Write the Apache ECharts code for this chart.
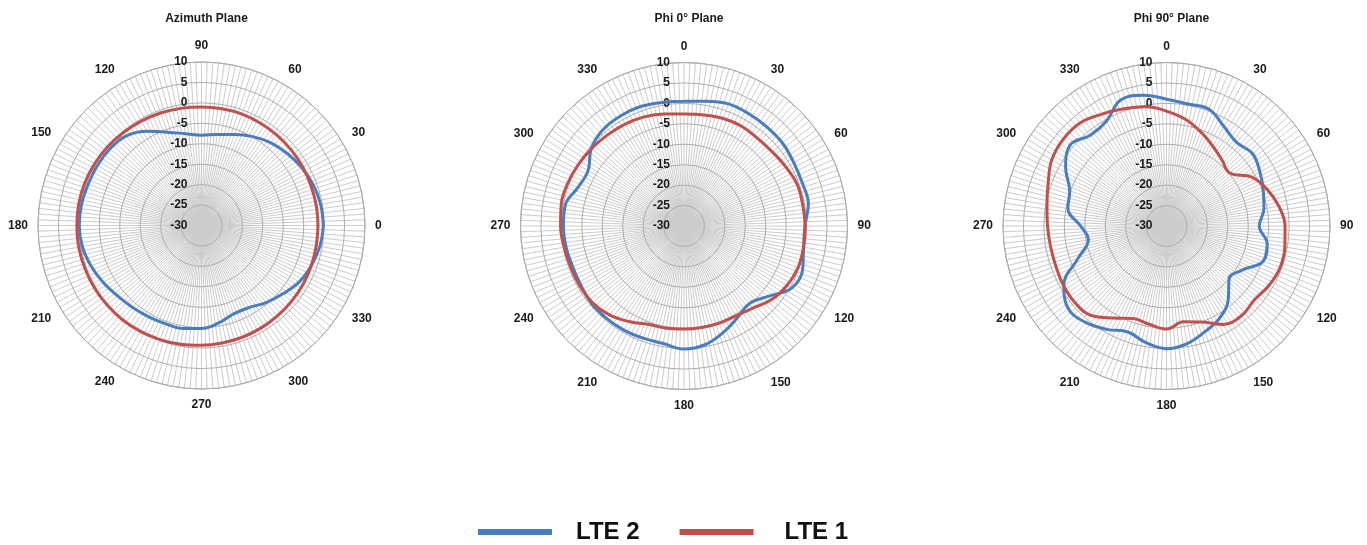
<!DOCTYPE html>
<html>
<head>
<meta charset="utf-8">
<script src="https://cdn.jsdelivr.net/npm/echarts@6/dist/echarts.min.js"></script>
<style>html,body{margin:0;padding:0;background:#fff}#c{width:1367px;height:545px}</style>
</head>
<body>
<div id="c"></div>
<script>
// ---- data (dB) ----
const angles = [0,10,20,30,40,50,60,70,80,90,100,110,120,130,140,150,160,170,180,190,200,210,220,230,240,250,260,270,280,290,300,310,320,330,340,350];
// Azimuth plane (angle counter-clockwise from the right)
const azLTE2 = [-0.2,-0.4,-0.9,-1.7,-2.6,-3.6,-4.9,-6.3,-7.4,-7.9,-7.2,-5.7,-3.4,-1.4,-0.8,-0.6,-0.5,-0.2,-0.1,-0.4,-1.2,-2.2,-3.2,-3.8,-4.2,-4.4,-4.4,-4.8,-5.8,-7.0,-6.8,-5.4,-4.0,-2.4,-1.4,-0.6];
const azLTE1 = [-1.5,-1.5,-1.5,-1.4,-1.3,-1.2,-1.1,-1.0,-1.0,-1.0,-0.9,-0.7,-0.5,-0.3,0.0,0.2,0.4,0.5,0.5,0.5,0.4,0.3,0.2,0.1,-0.1,-0.3,-0.5,-0.7,-0.8,-0.9,-1.0,-1.1,-1.2,-1.3,-1.4,-1.5];
// Phi 0 plane (angle clockwise from the top)
const p0LTE2 = [0.5,1.0,1.8,1.7,1.6,1.5,1.0,0.8,0.9,-0.4,-0.3,0.9,0.4,-3.2,-5.2,-4.0,-2.2,-0.5,0.1,-0.8,-0.8,-0.6,-0.5,-0.5,-0.9,-1.0,-0.7,-0.5,-0.5,-2.4,-2.9,-0.4,0.8,1.1,1.1,0.7];
const p0LTE1 = [-2.6,-2.4,-2.0,-1.8,-2.0,-1.8,-1.2,-0.5,-0.5,-0.4,-0.3,-0.3,-0.9,-2.0,-3.8,-4.6,-4.7,-4.8,-4.8,-4.6,-4.4,-3.0,-1.6,-0.8,-0.6,-0.5,-0.2,0.2,0.5,0.3,-0.1,-0.5,-0.9,-1.2,-1.6,-2.2];
// Phi 90 plane (angle clockwise from the top)
const p90LTE2 = [1.0,0.3,0.4,-1.9,-3.3,-2.5,-3.6,-4.8,-5.8,-7.3,-5.0,-4.8,-8.5,-10.0,-6.5,-4.0,-2.5,-0.8,0.0,-1.0,-2.4,-0.8,0.8,1.4,-1.0,-7.0,-10.6,-9.0,-5.5,-4.8,-1.5,0.8,-1.0,-0.5,2.8,2.5];
const p90LTE1 = [-1.9,-3.5,-5.5,-7.4,-8.9,-9.8,-6.0,-3.8,-2.1,-1.0,-0.6,-0.4,-1.0,-1.9,-1.4,-2.2,-5.0,-6.2,-4.8,-5.6,-5.9,-4.0,-1.4,-0.8,-0.9,-1.2,-1.2,-0.9,-0.3,0.8,2.4,3.0,2.9,1.6,0.5,-0.4];

const radialMin = -30, radialMax = 10, radialStep = 5;
const angleStep = 30;
const titles = ['Azimuth Plane', 'Phi 0\u00b0 Plane', 'Phi 90\u00b0 Plane'];
const seriesNames = ['LTE 2', 'LTE 1'];
const colors = ['#4a7dbd', '#c0504d'];

// ---- layout ----
const centers = [[201.5, 225.5], [684, 226], [1166.5, 226]];
const R = 163.5;
const FONT = '"Liberation Sans", Arial, sans-serif';

function closed(vals) {
  const d = angles.map((a, i) => [vals[i], a]);
  d.push([vals[0], 360]);
  return d;
}

const polar = centers.map(c => ({ center: c, radius: R }));
polar.push({ center: centers[0], radius: R }); // label-only overlay for azimuth

function mkAngle(i, start, cw, visible) {
  return {
    polarIndex: i, type: 'value', min: 0, max: 360, interval: angleStep,
    startAngle: start, clockwise: cw, show: visible,
    axisLine: { show: true, lineStyle: { color: '#a8a8a8', width: 1 } },
    axisTick: { show: false },
    minorTick: { show: false, splitNumber: 15 },
    axisLabel: {
      show: true, margin: 10, fontFamily: FONT, fontSize: 12, fontWeight: 'bold', color: '#1a1a1a',
      formatter: v => (v === 360 ? '' : String(v))
    },
    splitLine: { show: true, lineStyle: { color: '#cccccc', width: 1 } },
    minorSplitLine: { show: true, lineStyle: { color: '#cccccc', width: 1 } }
  };
}
const angleAxis = [
  mkAngle(0, 0, false, true),
  mkAngle(1, 90, true, true),
  mkAngle(2, 90, true, true),
  mkAngle(3, 90, true, false)
];

function mkRadius(i, labels, grid) {
  return {
    polarIndex: i, type: 'value', min: radialMin, max: radialMax, interval: radialStep,
    axisLine: { show: false }, axisTick: { show: false },
    axisLabel: { show: labels, margin: 14, fontFamily: FONT, fontSize: 12, fontWeight: 'bold', color: '#1a1a1a' },
    splitLine: { show: grid, lineStyle: { color: '#adadad', width: 1 } },
    z: 5
  };
}
const radiusAxis = [
  mkRadius(0, false, true),
  mkRadius(1, true, true),
  mkRadius(2, true, true),
  mkRadius(3, true, false)
];

const sets = [[azLTE2, azLTE1], [p0LTE2, p0LTE1], [p90LTE2, p90LTE1]];
const series = [];
sets.forEach((pair, pi) => {
  pair.forEach((vals, si) => {
    series.push({
      name: seriesNames[si], type: 'line', coordinateSystem: 'polar', polarIndex: pi,
      data: closed(vals), symbol: 'none', smooth: 0.4,
      lineStyle: { width: 3, color: colors[si] }, itemStyle: { color: colors[si] }, z: 10 + si
    });
  });
});

const option = {
  animation: false,
  backgroundColor: '#fff',
  title: titles.map((t, i) => ({
    text: t, left: centers[i][0], top: 8, textAlign: 'center',
    textStyle: { fontFamily: FONT, fontSize: 12, fontWeight: 'bold', color: '#1a1a1a' }
  })),
  legend: {
    data: [
      { name: seriesNames[0] },
      { name: seriesNames[1], textStyle: { padding: [0, 0, 0, 26] } }
    ],
    left: 473, top: 515, icon: 'rect', itemWidth: 74, itemHeight: 6, itemGap: 40,
    textStyle: { fontFamily: FONT, fontSize: 24, fontWeight: 'bold', color: '#111', padding: [0, 0, 0, 19] }
  },
  polar, angleAxis, radiusAxis, series
};
const chart = echarts.init(document.getElementById('c'), null, { renderer: 'canvas' });
chart.setOption(option);
</script>
</body>
</html>
